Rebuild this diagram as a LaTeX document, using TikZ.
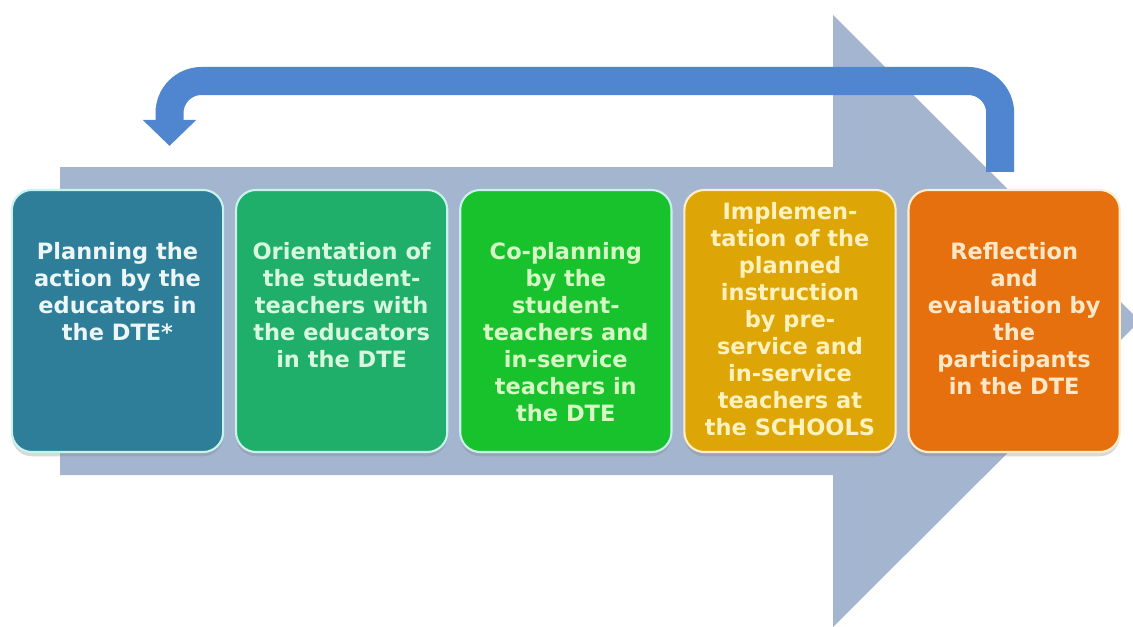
\documentclass[tikz,border=0pt]{standalone}
\usepackage{fontspec}
\setmainfont{DejaVu Sans}
\usetikzlibrary{positioning,arrows.meta,shadows}
\definecolor{arrowgray}{RGB}{164,181,207}
\definecolor{loopblue}{RGB}{79,134,207}
\definecolor{planfill}{RGB}{47,126,153}
\definecolor{orientfill}{RGB}{31,175,106}
\definecolor{coplanfill}{RGB}{24,194,44}
\definecolor{implfill}{RGB}{222,165,6}
\definecolor{reflectfill}{RGB}{230,112,14}
\definecolor{cooledge}{RGB}{200,242,236}
\definecolor{warmedge}{RGB}{255,238,205}
\newcommand{\steptext}[2]{\parbox[c][6.55cm][t]{5.28cm}{\vspace*{#1}\centering\bfseries\fontsize{16pt}{19.2pt}\selectfont #2}}
\tikzset{
	stepbox/.style = {
		shape=rectangle,
		rounded corners=0.5cm,
		minimum width=5.28cm,
		minimum height=6.55cm,
		inner sep=0pt,
		line width=1.5pt,
		drop shadow={shadow xshift=0pt, shadow yshift=-3pt, opacity=0.3}
	},
	backarrow/.style = {
		draw=loopblue,
		line width=0.7cm,
		rounded corners=0.8cm,
		-{Triangle[width=1.3cm,length=0.65cm]}
	}
}
\begin{document}
\begin{tikzpicture}[x=0.025cm, y=-0.025cm, node distance=0.27cm]
	\useasboundingbox (0,0) rectangle (1133,626);
	% big arrow behind everything
	\fill[arrowgray] (60,167) -- (833,167) -- (833,15) -- (1140,321)
		-- (833,627) -- (833,475) -- (60,475) -- cycle;
	% the five steps
	\node[stepbox, fill=planfill, draw=cooledge, text={rgb,255:red,236;green,246;blue,246}]
		(plan) at (117.5,321)
		{\steptext{1.3cm}{Planning the\\ action by the\\ educators in\\ the DTE*}};
	\node[stepbox, fill=orientfill, draw=cooledge, text={rgb,255:red,215;green,247;blue,222}, right=of plan]
		(orient)
		{\steptext{1.3cm}{Orientation of\\ the student-\\ teachers with\\ the educators\\ in the DTE}};
	\node[stepbox, fill=coplanfill, draw=cooledge, text={rgb,255:red,214;green,248;blue,196}, right=of orient]
		(coplan)
		{\steptext{1.3cm}{Co-planning\\ by the\\ student-\\ teachers and\\ in-service\\ teachers in\\ the DTE}};
	\node[stepbox, fill=implfill, draw=warmedge, text={rgb,255:red,255;green,242;blue,190}, right=of coplan]
		(impl)
		{\steptext{0.3cm}{Implemen-\\ tation of the\\ planned\\ instruction\\ by pre-\\ service and\\ in-service\\ teachers at\\ the SCHOOLS}};
	\node[stepbox, fill=reflectfill, draw=warmedge, text={rgb,255:red,255;green,232;blue,200}, right=of impl]
		(reflect)
		{\steptext{1.3cm}{Reflection\\ and\\ evaluation by\\ the\\ participants\\ in the DTE}};
	% feedback loop back to the start
	\coordinate (loop start) at ([xshift=-0.35cm,yshift=0.425cm]reflect.north);
	\coordinate (loop end) at ([xshift=1.3cm,yshift=1.075cm]plan.north);
	\coordinate (loop top) at (585,81);
	\draw[backarrow] (loop start) |- (loop top) -| (loop end);
\end{tikzpicture}
\end{document}
